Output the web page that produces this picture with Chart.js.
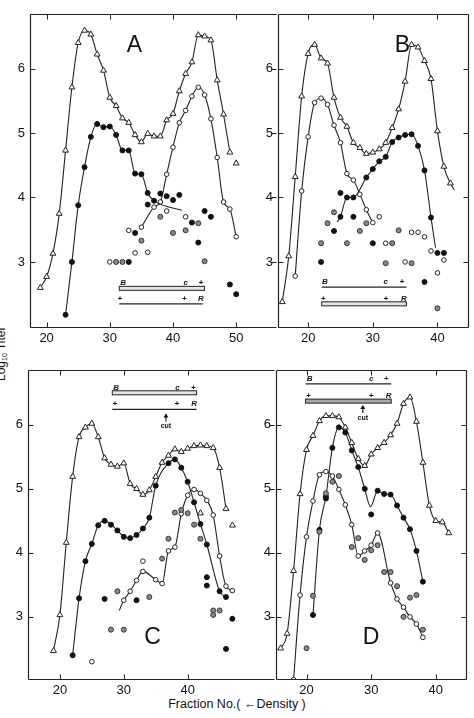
<!DOCTYPE html>
<html>
<head>
<meta charset="utf-8">
<script src="https://cdn.jsdelivr.net/npm/chart.js@4.4.1/dist/chart.umd.min.js"></script>
<style>
  body { margin: 0; background: #fff; }
  #fig { position: relative; width: 474px; height: 718px; overflow: hidden;
         font-family: "Liberation Sans", Arial, sans-serif; color: #111; }
  #fig canvas { position: absolute; }
  .ylab { position: absolute; left: -44px; top: 333px; width: 90px; height: 14px; line-height: 14px;
          transform: rotate(-90deg); font-size: 12px; white-space: nowrap; padding-left: 4px; box-sizing: border-box; }
  .ylab sub { font-size: 7px; vertical-align: -2px; }
  .xlab { position: absolute; left: 137px; top: 697px; width: 200px; text-align: center; font-size: 12.5px; white-space: nowrap; }
</style>
</head>
<body>
<div id="fig">
  <div class="ylab">Log<sub>10</sub> Titer</div>
  <div class="xlab">Fraction No.( &#8592;Density )</div>
</div>
<script>
// Titer profiles, log10 titer vs fraction number, four gradients A-D

// ---- panel A ----
const triA = [[19,2.60],[20,2.77],[21,3.13],[22,3.75],[23,4.73],[24,5.71],[25,6.40],[26,6.59],[27,6.53],[28,6.22],[29,5.97],[30,5.55],[31,5.42],[32,5.23],[33,5.16],[34,4.97],[35,4.86],[36,4.99],[37,4.95],[38,4.95],[39,5.20],[40,5.30],[41,5.65],[42,5.92],[43,6.10],[44,6.52],[45,6.50],[46,6.44],[47,5.82],[48,5.29],[49,4.70]];
const triDotsA = [[50,4.53]];
const openA = [[35,3.54],[37,3.85],[38,3.93],[39,4.36],[40,4.78],[41,5.16],[42,5.35],[43,5.57],[44,5.71],[45,5.59],[46,5.22],[47,4.62],[48,3.93],[49,3.82],[50,3.39]];
const filledA = [[23,2.18],[24,3.00],[25,3.88],[26,4.47],[27,4.94],[28,5.14],[29,5.09],[30,5.10],[31,4.97],[32,4.73],[33,4.73],[34,4.37],[35,4.36],[36,4.07],[37,3.95],[41.4,3.80,0]];
const openDotsA = [[30,3.00],[33,3.49],[34,3.14],[36,3.15],[39,3.79],[42,3.70]];
const greyDotsA = [[31,3.00],[32,3.00],[35,3.33],[38,3.70],[40,3.45],[42,3.49],[44,3.60],[45,3.01]];
const blackDotsA = [[33,3.00],[34,3.45],[36,3.89],[38,4.06],[39,4.02],[40,3.96],[41,4.04],[43,3.61],[44,3.30],[45,3.79],[46,3.70],[49,2.65],[50,2.50]];
const barsA = [[31.5,45.0,2.59],[31.5,44.7,2.35]];
const barTextA = [['B',32.1,2.59],['c',42.0,2.59],['+',44.4,2.59],['+',31.6,2.35],['+',41.8,2.35],['R',44.4,2.35]];

// ---- panel B ----
const triB = [[16,2.38],[17,3.09],[18,4.32],[19,5.57],[20,6.23],[21,6.37],[22,6.16],[23,6.08],[24,5.55],[25,5.24],[26,5.10],[27,4.85],[28,4.77],[29,4.68],[30,4.70],[31,4.75],[32,4.85],[33,5.08],[34,5.37],[35,5.80],[36,6.37],[37,6.33],[38,6.12],[39,5.84],[40,5.03],[41,4.48],[42,4.22],[42.6,4.12,0]];
const openB = [[18,2.78],[19,4.10],[20,4.94],[21,5.47],[22,5.54],[23,5.44],[24,5.12],[25,4.85],[26,4.37],[27,4.27],[28,4.05],[29,3.81],[30,3.61]];
const filledB = [[24.5,3.62,0],[25,3.70],[26,4.00],[27,4.00],[29,4.31],[30,4.44],[31,4.56],[32,4.63],[33,4.86],[34,4.93],[35,4.97],[36,4.98],[37,4.80],[38,4.42],[39,3.69],[39.7,3.22,0]];
const openDotsB = [[31,3.70],[32,3.29],[35,3.00],[36,3.46],[37,3.46],[38,3.39],[39,3.17],[40,2.83],[41,3.03]];
const greyDotsB = [[22,3.29],[23,3.60],[24,3.77],[26,3.29],[28,3.48],[29,3.60],[32,2.98],[33,3.29],[34,3.49],[36,2.98],[40,2.28]];
const blackDotsB = [[22,3.00],[24,3.48],[25,4.07],[27,3.70],[30,3.29],[38,2.69],[40,3.14],[41,3.14]];
const barsB = [[22.1,35.2,2.61],[22.1,35.2,2.35]];
const barTextB = [['B',22.6,2.61],['c',32.0,2.61],['+',34.5,2.61],['+',22.3,2.35],['+',32.0,2.35],['R',34.8,2.35]];

// ---- panel C ----
const triC = [[19,2.47],[20,3.03],[21,4.16],[22,5.19],[23,5.81],[24,5.96],[25,6.02],[26,5.81],[27,5.48],[28,5.38],[29,5.35],[30,5.40],[31,5.08],[32,5.00],[33,4.91],[34,4.98],[35,5.19],[36,5.41],[37,5.52],[38,5.62],[39,5.58],[40,5.63],[41,5.67],[42,5.68],[43,5.67],[44,5.64],[45,5.33],[46,4.69]];
const triDotsC = [[47,4.43],[42,4.62]];
const filledC = [[22,2.40],[23,3.29],[24,3.87],[25,4.14],[26,4.43],[27,4.50],[28,4.44],[29,4.35],[30,4.25],[31,4.23],[32,4.28],[33,4.38],[34,4.55],[35,5.05],[37,5.40],[38,5.46],[39,5.33],[40,5.11],[41,4.79],[42,4.45],[43,4.13],[45,3.40],[46,3.31]];
const openC = [[29.3,3.10,0],[30,3.26],[31,3.40],[32,3.57],[33,3.71],[35,3.58],[36,3.52],[37,4.03],[38,4.09],[39,4.61],[40,4.90],[41,4.99],[42,4.93],[43,4.82],[44,4.59],[45,3.95],[46,3.48],[47,3.41]];
const openDotsC = [[25,2.30],[33,3.87]];
const greyDotsC = [[28,2.80],[29,3.40],[30,2.80],[34,3.31],[36,3.91],[37,4.22],[38,4.63],[39,4.67],[40,4.62],[41,4.44],[42,4.22],[44,3.10],[44,3.03],[45,3.10]];
const blackDotsC = [[27,3.28],[32,3.26],[43,3.62],[43,3.49],[46,2.50],[47,2.97]];
const barsC = [[28.2,41.4,6.50],[28.2,41.4,6.24]];
const barTextC = [['B',28.8,6.50],['c',38.4,6.50],['+',40.9,6.50],['+',28.6,6.24],['+',38.3,6.24],['R',41.0,6.24]];
const cutC = [36.6, 6.24];

// ---- panel D ----
const triD = [[16,2.51],[17,2.74],[18,3.72],[19,4.92],[20,5.61],[21,5.83],[22,6.06],[23,6.14],[24,6.14],[25,6.12],[26,5.96],[27,5.72],[28,5.47],[29,5.36],[30,5.54],[31,5.64],[32,5.72],[33,5.84],[34,6.02],[35,6.33],[36,6.43],[37,6.05],[38,5.41],[39,4.74],[40,4.50],[41,4.48],[42,4.31]];
const filledD = [[21,3.03],[22,4.36],[23,4.88],[24,5.64],[25,5.96],[26,5.88],[27,5.60],[28,5.34],[29,5.00],[29.9,4.72,0],[31,4.97],[32,4.92],[33,4.91],[34,4.74],[35,4.55],[36,4.37],[37,4.03],[38,3.55]];
const openD = [[18,2.02],[19,3.34],[20,4.25],[21,4.81],[22,5.22],[23,5.27],[24,5.20],[25,4.99],[26,4.75],[27,4.44],[28,3.95],[29,4.03],[30,4.12],[31,4.31],[33,3.53],[34,3.28],[35,3.15],[36,3.00],[37,2.89],[38,2.68]];
const greyDotsD = [[20,2.51],[21,3.33],[22,4.33],[23,4.93],[24,5.11],[25,5.20],[27,4.09],[28,4.23],[29,3.89],[30,4.04],[31,4.12],[32,3.70],[33,3.70],[34,3.48],[35,3.00],[36,3.30],[37,3.34],[38,2.80]];
const blackDotsD = [[23,4.85],[30,4.60]];
const barsD = [[19.85,33.1,6.64],[19.85,33.1,6.37]];
const barTextD = [['B',20.5,6.64],['c',30.0,6.64],['+',32.3,6.64],['+',20.3,6.37],['+',30.0,6.37],['R',32.7,6.37]];
const cutD = [28.7, 6.37];

// tick labels
const xTicksA = [20, 30, 40, 50];
const xTicksB = [20, 30, 40];
const xTicksC = [20, 30, 40];
const xTicksD = [20, 30, 40];
const yTicks = [3, 4, 5, 6];

const FONT = '"Liberation Sans", Arial, sans-serif';
Chart.defaults.font.family = FONT;
Chart.defaults.color = '#111';

const TRI = { pointStyle: 'triangle', pointRadius: 3.4, pointBackgroundColor: '#fff', pointBorderColor: '#222', pointBorderWidth: 1 };
const OPEN = { pointStyle: 'circle', pointRadius: 2.3, pointBackgroundColor: '#fff', pointBorderColor: '#222', pointBorderWidth: 1 };
const BLACK = { pointStyle: 'circle', pointRadius: 2.5, pointBackgroundColor: '#111', pointBorderColor: '#111', pointBorderWidth: 1 };
const GREY = { pointStyle: 'circle', pointRadius: 2.5, pointBackgroundColor: '#8a8a8a', pointBorderColor: '#333', pointBorderWidth: 1 };

function pts(arr) {
    return arr.map(p => ({ x: p[0], y: p[1], hide: p[2] === 0 }));
}

function curve(arr, mk) {
    return Object.assign({}, mk, {
        data: pts(arr),
        showLine: true,
        borderColor: '#222',
        borderWidth: 1.1,
        cubicInterpolationMode: 'monotone',
        pointRadius: c => (c.raw && c.raw.hide ? 0 : mk.pointRadius)
    });
}

function dots(arr, mk) {
    return Object.assign({}, mk, { data: pts(arr), showLine: false });
}

// frame, inward ticks, fraction bars, panel letter
function decorations(p) {
    return {
        id: 'deco' + p.name,
        afterDraw(chart) {
            const { ctx, chartArea: a } = chart;
            const x = chart.scales.x, y = chart.scales.y;
            const seg = (x1, y1, x2, y2) => { ctx.beginPath(); ctx.moveTo(x1, y1); ctx.lineTo(x2, y2); ctx.stroke(); };
            const L = a.left + 0.5, R = a.right - 0.5, T = a.top + 0.5, B = a.bottom - 0.5;
            ctx.save();
            ctx.strokeStyle = '#222';
            ctx.lineWidth = 1.2;
            seg(L, T, L, B);
            seg(L, T, R, T);
            seg(L, B, R, B);
            if (p.rightEdge) seg(R, T, R, B);
            ctx.lineWidth = 1;
            x.ticks.forEach(t => {
                const px = Math.round(x.getPixelForValue(t.value)) + 0.5;
                seg(px, B, px, B - 5);
                seg(px, T, px, T + 5);
            });
            y.ticks.forEach(t => {
                const py = Math.round(y.getPixelForValue(t.value)) + 0.5;
                seg(L, py, L + 5, py);
                seg(R, py, R - 5, py);
            });

            // fraction bars
            p.bars.forEach((b, i) => {
                const x0 = x.getPixelForValue(b[0]), x1 = x.getPixelForValue(b[1]), py = y.getPixelForValue(b[2]);
                const kind = p.kinds[i];
                if (kind === 'line') {
                    ctx.lineWidth = 1.2;
                    seg(x0, py, x1, py);
                } else {
                    ctx.lineWidth = 1;
                    ctx.fillStyle = kind === 'shaded' ? '#a8a8a8' : '#e4e4e4';
                    ctx.fillRect(x0, py - 2, x1 - x0, 4);
                    ctx.strokeRect(x0, py - 2, x1 - x0, 4);
                }
            });
            ctx.fillStyle = '#111';
            ctx.font = 'italic bold 8px ' + FONT;
            ctx.textAlign = 'center';
            ctx.textBaseline = 'alphabetic';
            p.texts.forEach(t => {
                ctx.fillText(t[0], x.getPixelForValue(t[1]), y.getPixelForValue(t[2]) - 3);
            });

            // "cut" arrow
            if (p.cut) {
                const cx = x.getPixelForValue(p.cut[0]), cy = y.getPixelForValue(p.cut[1]) + 4;
                ctx.lineWidth = 1.2;
                seg(cx, cy + 1, cx, cy + 8);
                ctx.beginPath();
                ctx.moveTo(cx, cy);
                ctx.lineTo(cx - 2.5, cy + 4);
                ctx.lineTo(cx + 2.5, cy + 4);
                ctx.closePath();
                ctx.fill();
                ctx.font = 'bold 7px ' + FONT;
                ctx.textBaseline = 'top';
                ctx.fillText('cut', cx, cy + 9);
            }

            // panel letter
            ctx.font = '23px ' + FONT;
            ctx.textBaseline = 'middle';
            ctx.fillText(p.name, x.getPixelForValue(p.letter[0]), y.getPixelForValue(p.letter[1]));
            ctx.restore();
        }
    };
}

const YW = 34, XH = 26, PAD = 4;

function makePanel(p) {
    const [l, t, r, b] = p.area;
    const canvas = document.createElement('canvas');
    canvas.width = (r - l) + YW + PAD;
    canvas.height = (b - t) + XH + PAD;
    canvas.style.left = (l - YW) + 'px';
    canvas.style.top = (t - PAD) + 'px';
    document.getElementById('fig').appendChild(canvas);

    const fit = (w, h) => s => {
        if (w) s.width = w;
        if (h) s.height = h;
        s.paddingTop = s.paddingBottom = s.paddingLeft = s.paddingRight = 0;
    };

    new Chart(canvas, {
        type: 'scatter',
        data: { datasets: p.datasets },
        options: {
            responsive: false,
            animation: false,
            events: [],
            layout: { padding: { top: PAD, right: PAD, left: 0, bottom: 0 } },
            plugins: { legend: { display: false }, tooltip: { enabled: false } },
            scales: {
                x: {
                    type: 'linear', min: p.xr[0], max: p.xr[1],
                    grid: { display: false, drawTicks: false },
                    border: { display: false },
                    afterBuildTicks: s => { s.ticks = p.xTicks.map(v => ({ value: v })); },
                    afterFit: fit(null, XH),
                    ticks: { font: { size: 13 }, padding: 3, maxRotation: 0, callback: v => String(v) }
                },
                y: {
                    type: 'linear', min: p.yr[0], max: p.yr[1],
                    grid: { display: false, drawTicks: false },
                    border: { display: false },
                    afterBuildTicks: s => { s.ticks = yTicks.map(v => ({ value: v })); },
                    afterFit: fit(YW, null),
                    ticks: { font: { size: 13 }, padding: 5, callback: v => String(v) }
                }
            }
        },
        plugins: [decorations(p)]
    });
}

makePanel({
    name: 'A', area: [30, 13, 278, 328], xr: [17.37, 56.46], yr: [1.975, 6.846], xTicks: xTicksA,
    rightEdge: false, bars: barsA, kinds: ['open', 'line'], texts: barTextA, cut: null, letter: [33.9, 6.35],
    datasets: [
        dots(greyDotsA, GREY), dots(blackDotsA, BLACK), dots(openDotsA, OPEN), dots(triDotsA, TRI),
        curve(filledA, BLACK), curve(openA, OPEN), curve(triA, TRI)
    ]
});

makePanel({
    name: 'B', area: [278, 13, 470, 328], xr: [15.34, 44.88], yr: [1.975, 6.846], xTicks: xTicksB,
    rightEdge: true, bars: barsB, kinds: ['line', 'open'], texts: barTextB, cut: null, letter: [34.6, 6.35],
    datasets: [
        dots(greyDotsB, GREY), dots(blackDotsB, BLACK), dots(openDotsB, OPEN),
        curve(filledB, BLACK), curve(openB, OPEN), curve(triB, TRI)
    ]
});

makePanel({
    name: 'C', area: [28, 369, 276, 680], xr: [15.01, 53.67], yr: [2.014, 6.856], xTicks: xTicksC,
    rightEdge: false, bars: barsC, kinds: ['open', 'line'], texts: barTextC, cut: cutC, letter: [34.5, 2.68],
    datasets: [
        dots(greyDotsC, GREY), dots(blackDotsC, BLACK), dots(openDotsC, OPEN), dots(triDotsC, TRI),
        curve(filledC, BLACK), curve(openC, OPEN), curve(triC, TRI)
    ]
});

makePanel({
    name: 'D', area: [276, 369, 468, 680], xr: [15.28, 44.82], yr: [2.014, 6.856], xTicks: xTicksD,
    rightEdge: true, bars: barsD, kinds: ['line', 'shaded'], texts: barTextD, cut: cutD, letter: [30.0, 2.68],
    datasets: [
        dots(greyDotsD, GREY), dots(blackDotsD, BLACK),
        curve(filledD, BLACK), curve(openD, OPEN), curve(triD, TRI)
    ]
});
</script>
</body>
</html>
